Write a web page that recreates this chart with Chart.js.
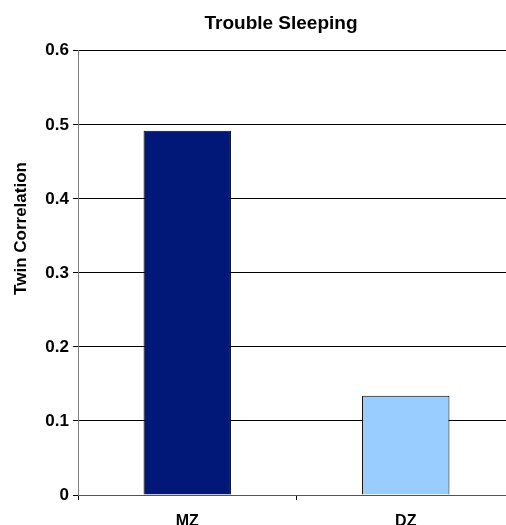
<!DOCTYPE html>
<html><head><meta charset="utf-8">
<script src="https://cdn.jsdelivr.net/npm/chart.js@4/dist/chart.umd.min.js"></script>
<style>
html,body{margin:0;padding:0;overflow:hidden;background:#fff;}
#wrap{position:absolute;left:0;top:0;width:562px;height:545px;}
</style></head>
<body>
<div id="wrap"><canvas id="c" width="562" height="545"></canvas></div>
<script>
const categories = ["MZ", "DZ"];
const correlations = [0.492, 0.134];
const barColors = ["#021878", "#99CCFF"];
const chartTitle = "Trouble Sleeping";
const yAxisTitle = "Twin Correlation";

const FONT = "'Liberation Sans', Arial, sans-serif";

// Y-axis title, placed where the original has it (above the axis middle)
const yTitlePlugin = {
  id: 'yTitle',
  afterDraw(chart) {
    const ctx = chart.ctx;
    const a = chart.chartArea;
    const cy = a.top + (a.bottom - a.top) * 0.4;
    ctx.save();
    ctx.translate(21, cy);
    ctx.rotate(-Math.PI / 2);
    ctx.font = "bold 17px " + FONT;
    ctx.fillStyle = '#000';
    ctx.textAlign = 'center';
    ctx.textBaseline = 'middle';
    ctx.fillText(yAxisTitle, 0, 0);
    ctx.restore();
  }
};

new Chart(document.getElementById('c'), {
  type: 'bar',
  data: {
    labels: categories,
    datasets: [{
      data: correlations,
      backgroundColor: barColors,
      borderColor: '#000',
      borderWidth: 1,
      barPercentage: 0.4,
      categoryPercentage: 1.0
    }]
  },
  plugins: [yTitlePlugin],
  options: {
    responsive: false,
    devicePixelRatio: 1,
    animation: false,
    layout: { padding: 0 },
    plugins: {
      legend: { display: false },
      tooltip: { enabled: false },
      title: {
        display: true,
        text: chartTitle,
        color: '#000',
        font: { family: FONT, size: 19, weight: 'bold' },
        padding: { top: 12, bottom: 16 }
      }
    },
    scales: {
      x: {
        offset: true,
        grid: { display: true, offset: true, drawOnChartArea: false, color: '#000', tickLength: 5 },
        border: { display: true, color: '#555', width: 1 },
        ticks: { color: '#000', font: { family: FONT, size: 16, weight: 'bold' }, padding: 12 },
        afterFit: (s) => { s.height = 50; }
      },
      y: {
        min: 0, max: 0.6,
        ticks: { stepSize: 0.1, color: '#000', font: { family: FONT, size: 17, weight: 'bold' }, padding: 4,
          callback: (v) => (Math.round(v * 10) / 10).toString() },
        grid: { color: '#000', tickLength: 5, lineWidth: 1 },
        border: { display: true, color: '#808080', width: 1 },
        afterFit: (s) => { s.width = 78; }
      },
      yRight: {
        type: 'linear',
        position: 'right',
        display: true,
        min: 0, max: 0.6,
        grid: { display: false },
        border: { display: false },
        ticks: { display: false },
        afterFit: (s) => { s.width = 47; }
      }
    }
  }
});
</script>
</body></html>
